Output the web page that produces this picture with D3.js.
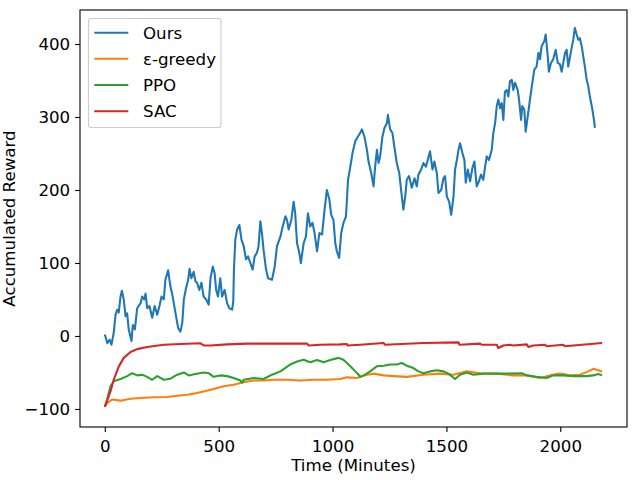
<!DOCTYPE html>
<html>
<head>
<meta charset="utf-8">
<script src="https://cdn.jsdelivr.net/npm/d3@7"></script>
<style>
  html, body { margin: 0; padding: 0; background: #fff; }
  svg { display: block; }
  text { font-family: "DejaVu Sans", sans-serif; }
</style>
</head>
<body>
<svg id="chart" width="640" height="480"></svg>
<script>
// ---- data ----
const seriesNames = ["Ours", "ε-greedy", "PPO", "SAC"];
const seriesColors = ["#1f77b4", "#ff7f0e", "#2ca02c", "#d62728"];
const xTicks = [0, 500, 1000, 1500, 2000];
const yTicks = [-100, 0, 100, 200, 300, 400];
const xLabel = "Time (Minutes)";
const yLabel = "Accumulated Reward";

const oursData = [
  [0,2],[11,-10],[21,-5],[29,-12],[39,4],[47,29],[54,36],[61,32],[69,54],[75,62],[83,50],[91,27],[98,31],
  [105,9],[117,-7],[123,15],[132,9],[142,38],[157,45],[164,54],[173,50],[179,58],[186,38],[196,41],[208,25],
  [219,41],[230,29],[240,41],[249,54],[259,50],[266,77],[278,90],[288,68],[298,54],[310,32],[322,11],[332,6],
  [340,18],[347,50],[357,66],[366,77],[372,92],[380,79],[390,88],[398,75],[405,73],[415,63],[424,73],[434,54],
  [445,50],[456,43],[464,79],[474,95],[482,86],[489,63],[497,54],[507,79],[515,54],[526,63],[537,45],[547,38],
  [559,36],[564,47],[567,91],[573,132],[581,146],[591,152],[600,132],[610,123],[620,105],[629,109],[639,100],
  [649,91],[658,109],[668,114],[675,123],[683,157],[690,141],[697,118],[708,91],[717,79],[734,77],[746,95],
  [756,123],[771,136],[781,150],[793,164],[800,159],[807,146],[819,159],[829,184],[836,168],[844,127],[854,114],
  [861,100],[873,127],[883,136],[892,168],[902,150],[912,155],[921,141],[932,116],[942,141],[954,139],[965,173],
  [975,200],[986,187],[994,166],[1004,159],[1012,127],[1019,116],[1029,107],[1038,141],[1048,155],[1059,164],
  [1068,214],[1078,232],[1088,251],[1100,267],[1111,273],[1121,278],[1129,283],[1140,273],[1151,255],[1158,239],
  [1170,223],[1180,205],[1187,232],[1195,255],[1202,237],[1209,246],[1219,273],[1228,285],[1239,292],[1243,303],
  [1253,283],[1263,278],[1272,258],[1282,237],[1293,223],[1301,200],[1311,173],[1319,191],[1326,214],[1336,219],
  [1348,203],[1360,216],[1370,205],[1377,221],[1389,228],[1399,237],[1410,232],[1418,241],[1428,253],[1439,228],
  [1447,239],[1458,223],[1465,196],[1477,200],[1487,216],[1494,219],[1502,191],[1512,184],[1521,166],[1531,191],
  [1538,228],[1546,241],[1553,255],[1560,264],[1570,251],[1579,241],[1585,210],[1594,228],[1604,212],[1614,230],
  [1623,239],[1633,205],[1643,212],[1652,221],[1662,214],[1670,232],[1677,246],[1687,241],[1699,255],[1706,278],
  [1714,292],[1721,315],[1728,324],[1736,312],[1743,319],[1750,296],[1757,335],[1765,337],[1772,328],[1779,349],
  [1787,351],[1794,337],[1801,347],[1813,337],[1819,324],[1828,296],[1833,315],[1842,310],[1848,280],[1857,301],
  [1867,324],[1875,342],[1886,365],[1896,369],[1904,388],[1911,379],[1918,397],[1930,404],[1936,413],[1945,383],
  [1950,362],[1959,374],[1969,379],[1980,392],[1989,374],[1999,372],[2006,362],[2013,374],[2021,388],[2028,392],
  [2035,369],[2047,390],[2057,406],[2064,422],[2072,413],[2079,406],[2086,408],[2094,397],[2101,383],[2108,369],
  [2116,351],[2123,342],[2130,328],[2140,312],[2149,294],[2152,285]
];

const greedyData = [
  [0,-97],[10,-92],[32,-87],[69,-88.6],[113,-86],[157,-85],[215,-84],[274,-83.6],[318,-82],[361,-80.4],
  [390,-79],[434,-76],[478,-72.6],[522,-69],[566,-66.7],[603,-63.6],[654,-61],[697,-61],[741,-60],[800,-60],
  [858,-61],[917,-60],[975,-60],[1034,-59],[1063,-56.7],[1107,-57.5],[1151,-53],[1180,-51.6],[1224,-54],
  [1268,-55],[1326,-56],[1399,-53],[1472,-51.6],[1531,-53],[1589,-48.5],[1648,-51],[1721,-51.6],[1794,-54],
  [1853,-54],[1911,-57.5],[1955,-54],[1999,-51.6],[2042,-54],[2086,-53],[2123,-48.5],[2145,-45],[2167,-47],[2184,-49]
];

const ppoData = [
  [0,-97],[10,-87],[25,-69],[39,-62],[69,-59],[98,-55],[120,-51],[142,-54],[164,-53],[186,-56],[208,-60],
  [230,-55],[259,-60],[288,-58.5],[318,-53],[347,-50],[368,-54],[398,-52],[434,-50],[456,-51],[478,-56],
  [507,-54],[537,-55],[566,-57.5],[595,-61],[603,-64],[610,-60],[654,-57.5],[697,-59],[734,-53],[771,-48.5],
  [815,-39],[844,-35],[873,-32.5],[902,-36],[932,-33],[961,-36],[990,-33],[1026,-30],[1048,-32.5],[1063,-37],
  [1078,-41.5],[1100,-48.5],[1114,-53],[1121,-56],[1143,-53],[1165,-48.5],[1195,-41.5],[1224,-40.7],[1253,-39],
  [1282,-39],[1304,-37],[1326,-40.7],[1355,-44],[1377,-48.5],[1399,-51],[1428,-48.5],[1458,-47],[1487,-48.5],
  [1509,-51.6],[1538,-59],[1560,-53],[1589,-50],[1618,-53],[1662,-51.6],[1736,-51.6],[1831,-51],[1853,-54],
  [1896,-56],[1940,-57.5],[1969,-54],[2013,-54],[2057,-55],[2116,-55],[2145,-54],[2167,-52],[2184,-54]
];

const sacData = [
  [0,-97],[25,-76],[39,-60],[61,-42],[83,-30],[113,-22],[142,-18],[186,-15],[259,-12],[332,-11],[420,-10],
  [434,-13],[464,-13],[537,-11.5],[625,-10.5],[771,-10.5],[888,-10.5],[895,-13],[946,-12],[1034,-11.5],
  [1063,-11],[1065,-13],[1121,-12],[1224,-9.6],[1231,-12],[1399,-9.6],[1553,-8.8],[1557,-12],[1648,-10.5],
  [1655,-12],[1721,-12],[1728,-16.5],[1750,-13],[1779,-12],[1794,-13],[1853,-11.5],[1860,-15],[1882,-13],
  [1933,-12],[1940,-14],[2013,-12],[2020,-14],[2184,-9.6]
];

const allSeries = [oursData, greedyData, ppoData, sacData];

// ---- layout ----
const W = 640, H = 480;
const plot = { left: 80, right: 627, top: 10, bottom: 427 };
const svg = d3.select("#chart");

const x = d3.scaleLinear().domain([-109, 2293]).range([plot.left, plot.right]);
const y = d3.scaleLinear().domain([-124.7, 446.6]).range([plot.bottom, plot.top]);

const tickLen = 4.9, tickPad = 4.9, fontSize = 16.67;

// lines
const line = d3.line().x(d => x(d[0])).y(d => y(d[1]));
svg.append("defs").append("clipPath").attr("id", "clip")
  .append("rect").attr("x", plot.left).attr("y", plot.top)
  .attr("width", plot.right - plot.left).attr("height", plot.bottom - plot.top);

const gLines = svg.append("g").attr("clip-path", "url(#clip)");
allSeries.forEach((s, i) => {
  gLines.append("path")
    .datum(s)
    .attr("d", line)
    .attr("fill", "none")
    .attr("stroke", seriesColors[i])
    .attr("stroke-width", 2.08)
    .attr("stroke-linejoin", "round")
    .attr("stroke-linecap", "butt");
});

// axes
const xAxis = d3.axisBottom(x).tickValues(xTicks).tickSize(tickLen).tickPadding(tickPad).tickSizeOuter(0).tickFormat(d3.format("d"));
const yAxis = d3.axisLeft(y).tickValues(yTicks).tickSize(tickLen).tickPadding(tickPad).tickSizeOuter(0).tickFormat(d => d < 0 ? "\u2212" + Math.abs(d) : d);

const gx = svg.append("g").attr("transform", `translate(0,${plot.bottom})`).call(xAxis);
const gy = svg.append("g").attr("transform", `translate(${plot.left},0)`).call(yAxis);
[gx, gy].forEach(g => {
  g.select(".domain").remove();
  g.selectAll(".tick line").attr("stroke", "#000").attr("stroke-width", 1.1);
  g.selectAll(".tick text").attr("fill", "#000").style("font-size", fontSize + "px").style("font-family", "DejaVu Sans");
});
gx.selectAll(".tick text").attr("dy", "0.89em");

// spines
svg.append("rect")
  .attr("x", plot.left).attr("y", plot.top)
  .attr("width", plot.right - plot.left).attr("height", plot.bottom - plot.top)
  .attr("fill", "none").attr("stroke", "#000").attr("stroke-width", 1.1);

// axis labels
svg.append("text")
  .attr("x", (plot.left + plot.right) / 2).attr("y", 471)
  .attr("text-anchor", "middle").style("font-size", fontSize + "px")
  .text(xLabel);
svg.append("text")
  .attr("transform", `translate(15,${(plot.top + plot.bottom) / 2}) rotate(-90)`)
  .attr("text-anchor", "middle").style("font-size", fontSize + "px")
  .text(yLabel);

// legend
const leg = svg.append("g");
leg.append("rect")
  .attr("x", 88.5).attr("y", 18.5).attr("width", 132.5).attr("height", 109)
  .attr("rx", 2.8).attr("ry", 2.8)
  .attr("fill", "#fff").attr("fill-opacity", 0.8)
  .attr("stroke", "#cccccc").attr("stroke-width", 1.1);
const legY = [32.7, 58.7, 85, 111.3];
seriesNames.forEach((name, i) => {
  leg.append("line")
    .attr("x1", 94.3).attr("x2", 128.3).attr("y1", legY[i]).attr("y2", legY[i])
    .attr("stroke", seriesColors[i]).attr("stroke-width", 2.08);
  leg.append("text")
    .attr("x", 143).attr("y", legY[i]).attr("dy", "0.35em")
    .style("font-size", fontSize + "px")
    .text(name);
});
</script>
</body>
</html>
